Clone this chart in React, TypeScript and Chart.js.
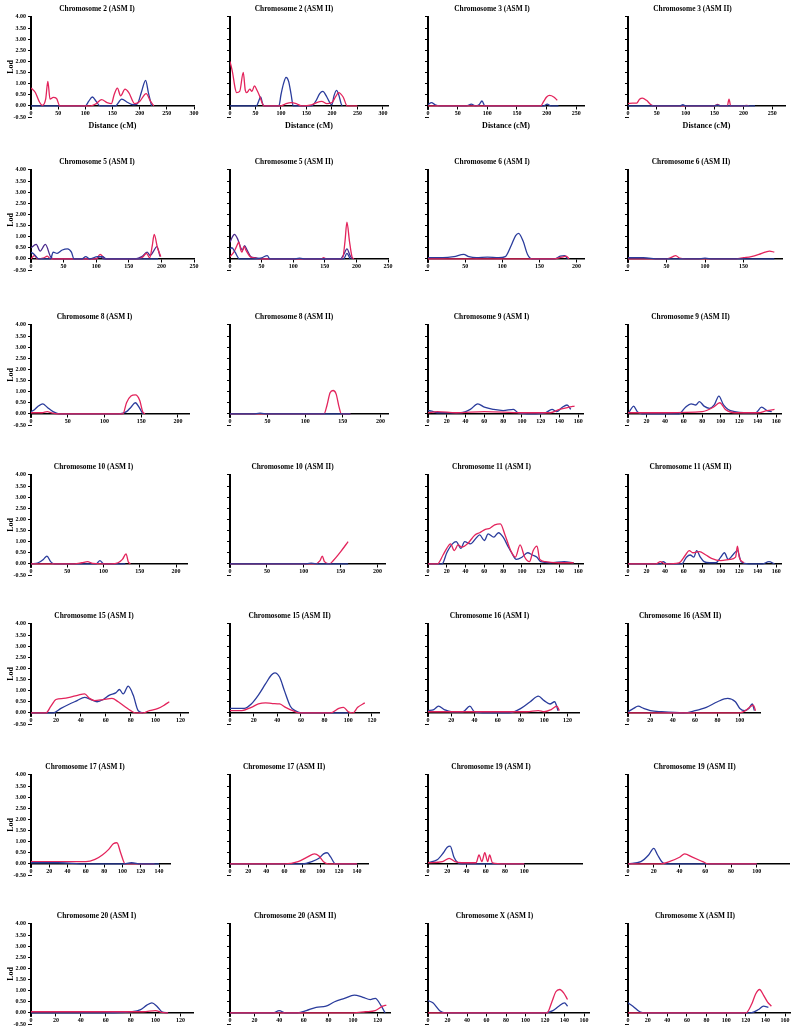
import React, { useEffect, useRef } from "react";
import { Chart, registerables } from "chart.js";
Chart.register(...registerables);

// ---------- tick label sets ----------
const ticks50to300 = [0, 50, 100, 150, 200, 250, 300];
const ticks50to250 = [0, 50, 100, 150, 200, 250];
const ticks50to200 = [0, 50, 100, 150, 200];
const ticks50to150 = [0, 50, 100, 150];
const ticks20to160 = [0, 20, 40, 60, 80, 100, 120, 140, 160];
const ticks20to140 = [0, 20, 40, 60, 80, 100, 120, 140];
const ticks20to120 = [0, 20, 40, 60, 80, 100, 120];
const ticks20to100 = [0, 20, 40, 60, 80, 100];
const lodTicks = [-0.5, 0, 0.5, 1, 1.5, 2, 2.5, 3, 3.5, 4];

// ---------- series: [distance cM, LOD] ----------
const chr2I_red = [[0,0.8],[8,0.6],[15,0.2],[21,0.02],[27,0.3],[31,1.1],[35,0.3],[41,0.38],[47,0.33],[53,0],[110,0],[120,0.1],[130,0.28],[140,0.15],[148,0.1],[153,0.5],[159,0.8],[165,0.45],[173,0.75],[180,0.6],[191,0.1],[200,0.2],[212,0.55],[220,0.2],[226,0]];
const chr2I_blue = [[0,0],[100,0],[106,0.2],[113,0.4],[120,0.2],[127,0],[155,0],[167,0.3],[178,0.15],[188,0.05],[196,0.1],[203,0.6],[211,1.15],[216,0.6],[222,0]];
const chr2II_red = [[0,2.0],[5,1.5],[10,0.8],[13,0.6],[19,0.65],[26,1.5],[30,0.7],[33,0.6],[39,0.75],[43,0.65],[48,0.9],[53,0.7],[57,0.5],[62,0.2],[66,0],[100,0],[110,0.1],[120,0.15],[130,0.1],[140,0],[160,0.05],[170,0.15],[180,0.2],[190,0.1],[200,0.15],[207,0.4],[213,0.6],[222,0.4],[230,0],[250,0]];
const chr2II_blue = [[0,0],[52,0],[56,0.2],[60,0.4],[64,0.1],[67,0],[96,0],[100,0.5],[105,1.0],[110,1.28],[115,1.1],[120,0.5],[124,0],[160,0],[168,0.2],[176,0.55],[182,0.65],[190,0.4],[197,0.1],[200,0.05],[204,0.45],[209,0.7],[214,0.45],[218,0.1],[220,0]];
const chr3I_blue = [[0,0.05],[6,0.15],[12,0.05],[20,0],[65,0],[73,0.08],[80,0],[86,0.05],[91,0.22],[96,0],[195,0],[201,0.08],[207,0],[220,0]];
const chr3I_red = [[0,0],[190,0],[195,0.2],[200,0.4],[205,0.47],[212,0.4],[218,0.25]];
const chr3II_red = [[0,0.1],[8,0.12],[15,0.12],[20,0.3],[25,0.35],[32,0.25],[40,0.05],[45,0],[150,0],[155,0.07],[160,0],[172,0],[175,0.3],[178,0],[200,0],[205,0.02],[210,0]];
const chr3II_blue = [[0,0],[90,0],[95,0.05],[100,0],[150,0],[155,0.04],[160,0],[220,0]];
const chr5I_purple = [[0,0.5],[8,0.65],[14,0.35],[22,0.65],[30,0.1],[35,0],[100,0],[106,0.1],[112,0],[160,0],[170,0.1],[178,0.3],[183,0.15],[188,0.35],[193,0.55],[198,0.1]];
const chr5I_blue = [[0,0.3],[5,0.2],[12,0],[30,0],[34,0.3],[40,0.25],[48,0.4],[56,0.45],[62,0.3],[66,0],[78,0],[84,0.1],[90,0],[102,0.1],[110,0.1],[115,0],[195,0]];
const chr5I_red = [[0,0],[5,0.15],[10,0],[20,0.05],[25,0.12],[30,0],[100,0],[106,0.2],[112,0.05],[116,0],[165,0],[172,0.1],[177,0.25],[182,0.05],[186,0.6],[189,1.1],[194,0.5],[199,0.1]];
const chr5II_purple = [[0,0.75],[4,1.0],[7,1.1],[12,0.9],[17,0.5],[20,0.4],[23,0.6],[27,0.4],[33,0.1],[40,0.05],[50,0],[175,0],[180,0.2],[185,0.45],[190,0.15],[193,0]];
const chr5II_blue = [[0,0.45],[3,0.5],[8,0.3],[15,0],[40,0],[50,0.05],[59,0.15],[63,0],[100,0],[110,0.03],[120,0],[180,0],[185,0.25],[190,0]];
const chr5II_red = [[0,0.1],[6,0.3],[11,0.6],[14,0.75],[17,0.4],[19,0.3],[22,0.55],[26,0.35],[32,0.1],[38,0.05],[45,0],[145,0],[148,0.05],[152,0],[178,0],[182,0.8],[185,1.65],[189,0.8],[193,0.1],[196,0]];
const chr6I_blue = [[0,0.05],[20,0.05],[35,0.1],[48,0.2],[55,0.1],[65,0.05],[80,0.08],[95,0.05],[104,0.1],[112,0.6],[118,1.05],[122,1.15],[128,0.8],[134,0.2],[140,0],[170,0],[178,0.12],[184,0.15],[188,0]];
const chr6I_red = [[0,0],[170,0],[180,0.08],[186,0.12],[190,0]];
const chr6II_red = [[0,0],[50,0],[57,0.08],[62,0.15],[67,0.03],[75,0],[140,0],[150,0.05],[160,0.1],[170,0.2],[178,0.3],[184,0.35],[190,0.3]];
const chr6II_blue = [[0,0.05],[20,0.05],[40,0],[90,0],[100,0.03],[110,0],[190,0]];
const chr8I_blue = [[0,0.1],[5,0.2],[10,0.35],[16,0.45],[22,0.3],[30,0.1],[38,0],[120,0],[130,0.1],[136,0.3],[142,0.5],[147,0.3],[152,0]];
const chr8I_red = [[0,0.05],[15,0.05],[22,0.1],[28,0.05],[35,0],[125,0],[130,0.5],[136,0.8],[142,0.85],[148,0.6],[152,0.1],[155,0]];
const chr8II_red = [[0,0],[125,0],[129,0.4],[133,0.95],[137,1.05],[141,0.9],[145,0.3],[148,0],[160,0]];
const chr8II_blue = [[0,0],[30,0],[40,0.03],[50,0],[160,0]];
const chr9I_blue = [[0,0.15],[4,0.12],[10,0.05],[20,0.05],[35,0.05],[45,0.2],[53,0.45],[60,0.3],[70,0.2],[80,0.15],[91,0.2],[96,0.05],[110,0],[125,0.05],[132,0.2],[137,0.1],[143,0.3],[148,0.4],[152,0.2]];
const chr9I_red = [[0,0.05],[10,0.1],[30,0.05],[60,0.1],[100,0.05],[130,0.05],[140,0.2],[150,0.3],[156,0.35]];
const chr9II_blue = [[0,0],[3,0.2],[6,0.35],[10,0.1],[15,0],[55,0],[62,0.3],[68,0.45],[73,0.4],[77,0.55],[82,0.35],[88,0.25],[93,0.4],[98,0.8],[103,0.4],[108,0.2],[115,0.1],[125,0.05],[138,0.05],[144,0.3],[150,0.15],[155,0.1]];
const chr9II_red = [[0,0.05],[40,0.05],[80,0.1],[92,0.3],[99,0.5],[105,0.2],[115,0.05],[140,0.05],[150,0.15],[158,0.2]];
const chr10I_blue = [[0,0],[10,0.05],[17,0.2],[22,0.35],[27,0.1],[32,0],[90,0],[95,0.15],[100,0],[130,0]];
const chr10I_red = [[0,0],[60,0],[70,0.05],[78,0.1],[85,0.02],[110,0],[120,0.05],[126,0.2],[131,0.45],[134,0.1],[137,0]];
const chr10II_red = [[0,0],[115,0],[122,0.15],[125,0.35],[128,0.1],[135,0],[140,0.15],[150,0.55],[160,1.0]];
const chr10II_blue = [[0,0],[100,0],[110,0.03],[120,0],[160,0]];
const chr11I_red = [[0,0],[10,0],[16,0.4],[20,0.7],[24,0.9],[28,0.6],[32,0.85],[36,0.75],[42,0.9],[50,1.3],[55,1.4],[61,1.55],[66,1.6],[71,1.75],[77,1.8],[82,1.3],[88,0.6],[93,0.3],[98,0.85],[103,0.3],[108,0.1],[112,0.6],[116,0.8],[119,0.2],[125,0.1],[140,0.05],[155,0.05]];
const chr11I_blue = [[0,0],[15,0],[20,0.5],[26,0.9],[30,1.0],[35,0.7],[39,1.0],[45,0.9],[52,1.2],[55,1.3],[60,1.05],[64,1.35],[70,1.2],[75,1.4],[80,1.2],[85,0.8],[89,0.5],[94,0.2],[100,0.3],[106,0.5],[111,0.4],[116,0.3],[120,0.1],[130,0.05],[145,0.1],[155,0.05]];
const chr11II_red = [[0,0],[30,0],[35,0.1],[40,0],[55,0.05],[62,0.4],[66,0.6],[70,0.5],[77,0.55],[84,0.4],[90,0.25],[100,0.15],[110,0.2],[116,0.3],[118,0.8],[120,0.3],[125,0.05]];
const chr11II_blue = [[0,0],[35,0],[38,0.1],[42,0],[58,0],[63,0.3],[67,0.4],[71,0.3],[74,0.6],[78,0.3],[82,0.1],[88,0.05],[95,0.05],[100,0.3],[104,0.5],[108,0.2],[113,0.4],[118,0.6],[122,0.1],[130,0],[145,0],[152,0.1],[158,0]];
const chr15I_red = [[0,0],[12,0],[16,0.3],[20,0.6],[26,0.65],[31,0.7],[38,0.8],[43,0.85],[47,0.65],[51,0.55],[58,0.6],[65,0.65],[70,0.5],[75,0.3],[80,0.1],[84,0],[90,0],[95,0.1],[102,0.2],[107,0.35],[111,0.5]];
const chr15I_blue = [[0,0],[18,0],[24,0.2],[31,0.4],[37,0.55],[43,0.7],[48,0.6],[53,0.5],[58,0.6],[63,0.8],[68,0.9],[71,1.05],[74,0.85],[78,1.2],[82,0.8],[86,0.1],[90,0]];
const chr15II_blue = [[0,0.2],[5,0.2],[12,0.2],[18,0.4],[24,0.8],[30,1.3],[35,1.7],[38,1.8],[42,1.6],[46,1.0],[51,0.3],[55,0.1],[60,0],[100,0]];
const chr15II_red = [[0,0.1],[10,0.1],[18,0.25],[24,0.4],[30,0.45],[36,0.42],[42,0.4],[47,0.25],[53,0.1],[59,0],[85,0],[92,0.2],[96,0.25],[100,0.05],[104,0],[108,0.25],[114,0.45]];
const chr16I_blue = [[0,0.1],[5,0.15],[9,0.3],[14,0.15],[20,0.05],[30,0.05],[36,0.3],[40,0.05],[50,0],[70,0],[80,0.2],[88,0.5],[95,0.75],[100,0.55],[105,0.4],[109,0.5],[112,0.1]];
const chr16I_red = [[0,0.05],[30,0.05],[60,0.05],[85,0.05],[95,0.1],[100,0.05],[106,0.15],[111,0.3],[113,0.1]];
const chr16II_blue = [[0,0.05],[5,0.2],[9,0.3],[14,0.2],[20,0.1],[30,0.05],[50,0],[60,0.1],[70,0.25],[80,0.5],[89,0.65],[96,0.5],[100,0.2],[104,0.1],[108,0.2],[111,0.4],[113,0.1]];
const chr16II_red = [[0,0],[60,0],[90,0],[100,0],[105,0.1],[110,0.3],[112,0.35],[114,0.1]];
const chr17I_red = [[0,0.1],[20,0.1],[40,0.1],[60,0.1],[70,0.2],[78,0.4],[85,0.65],[90,0.9],[94,0.95],[98,0.5],[103,0],[120,0],[135,0]];
const chr17I_blue = [[0,0.05],[30,0.05],[60,0],[100,0],[110,0.05],[120,0],[140,0]];
const chr17II_red = [[0,0],[60,0],[75,0.1],[85,0.3],[93,0.45],[98,0.35],[103,0.1],[108,0],[140,0]];
const chr17II_blue = [[0,0],[80,0],[90,0.1],[98,0.25],[103,0.45],[107,0.5],[111,0.3],[116,0],[140,0]];
const chr19I_blue = [[0,0.05],[10,0.2],[16,0.5],[20,0.75],[23,0.8],[27,0.3],[31,0.05],[35,0],[60,0],[100,0]];
const chr19I_red = [[0,0.05],[15,0.1],[22,0.25],[28,0.1],[35,0.05],[50,0.05],[53,0.4],[56,0.1],[59,0.5],[62,0.1],[64,0.4],[67,0.05],[80,0],[100,0]];
const chr19II_blue = [[0,0],[10,0.1],[16,0.4],[20,0.7],[23,0.4],[27,0.05],[30,0],[100,0]];
const chr19II_red = [[0,0],[25,0],[32,0.1],[40,0.3],[44,0.45],[50,0.3],[58,0.1],[62,0],[100,0]];
const chr20I_blue = [[0,0],[60,0],[80,0.05],[88,0.15],[93,0.35],[97,0.45],[101,0.3],[105,0.05],[110,0]];
const chr20I_red = [[0,0.05],[50,0.05],[90,0.05],[100,0.1],[105,0.02],[110,0]];
const chr20II_blue = [[0,0],[35,0],[40,0.1],[45,0],[55,0],[62,0.1],[70,0.25],[78,0.3],[85,0.5],[93,0.65],[101,0.8],[108,0.7],[114,0.6],[118,0.65],[123,0.3],[126,0]];
const chr20II_red = [[0,0],[100,0],[110,0.05],[118,0.1],[124,0.3],[127,0.35]];
const chrXI_blue = [[0,0.55],[5,0.45],[12,0.1],[18,0],[120,0],[128,0.1],[134,0.3],[140,0.45],[143,0.3]];
const chrXI_red = [[0,0],[100,0],[122,0],[127,0.5],[131,0.95],[135,1.05],[139,0.9],[143,0.6]];
const chrXII_blue = [[0,0.45],[5,0.3],[12,0.05],[18,0],[125,0],[133,0.15],[138,0.3],[143,0.25]];
const chrXII_red = [[0,0],[120,0],[126,0.4],[130,0.85],[134,1.05],[138,0.8],[142,0.5],[146,0.3]];

// ---------- styles / layout ----------
const RED = "#e3245c";
const BLUE = "#2a3c9c";
const PURPLE = "#4b2a8c";
const SERIF = "'Liberation Serif', 'Times New Roman', serif";

const CANVAS_W = 260;
const HALF_W = CANVAS_W / 2;
const PANEL_H = 150;
const ROW_TOPS = [0, 153, 308, 458, 607, 758, 907];
const COL_LEFTS = [0, 200, 400, 600];
const PLOT_LEFT = [31, 30, 28, 28];

type Panel = {
  title: string;
  xMax: number;
  ticks: number[];
  right: number;
  titleX: number;
  series: { data: number[][]; color: string }[];
};

const PANELS: Panel[] = [
  { title: "Chromosome 2 (ASM I)", xMax: 300, ticks: ticks50to300, right: 194, titleX: 108, series: [{ data: chr2I_red, color: RED }, { data: chr2I_blue, color: BLUE }] },
  { title: "Chromosome 2 (ASM II)", xMax: 310, ticks: ticks50to300, right: 188, titleX: 107, series: [{ data: chr2II_red, color: RED }, { data: chr2II_blue, color: BLUE }] },
  { title: "Chromosome 3 (ASM I)", xMax: 263, ticks: ticks50to250, right: 184, titleX: 108, series: [{ data: chr3I_red, color: RED }, { data: chr3I_blue, color: BLUE }] },
  { title: "Chromosome 3 (ASM II)", xMax: 272, ticks: ticks50to250, right: 185, titleX: 106, series: [{ data: chr3II_blue, color: BLUE }, { data: chr3II_red, color: RED }] },
  { title: "Chromosome 5 (ASM I)", xMax: 250, ticks: ticks50to250, right: 194, titleX: 106, series: [{ data: chr5I_blue, color: BLUE }, { data: chr5I_red, color: RED }, { data: chr5I_purple, color: PURPLE }] },
  { title: "Chromosome 5 (ASM II)", xMax: 250, ticks: ticks50to250, right: 188, titleX: 107, series: [{ data: chr5II_blue, color: BLUE }, { data: chr5II_red, color: RED }, { data: chr5II_purple, color: PURPLE }] },
  { title: "Chromosome 6 (ASM I)", xMax: 210, ticks: ticks50to200, right: 184, titleX: 106, series: [{ data: chr6I_red, color: RED }, { data: chr6I_blue, color: BLUE }] },
  { title: "Chromosome 6 (ASM II)", xMax: 200, ticks: ticks50to150, right: 182, titleX: 105, series: [{ data: chr6II_blue, color: BLUE }, { data: chr6II_red, color: RED }] },
  { title: "Chromosome 8 (ASM I)", xMax: 215, ticks: ticks50to200, right: 189, titleX: 97, series: [{ data: chr8I_red, color: RED }, { data: chr8I_blue, color: BLUE }] },
  { title: "Chromosome 8 (ASM II)", xMax: 210, ticks: ticks50to200, right: 188, titleX: 101, series: [{ data: chr8II_blue, color: BLUE }, { data: chr8II_red, color: RED }] },
  { title: "Chromosome 9 (ASM I)", xMax: 165, ticks: ticks20to160, right: 183, titleX: 106, series: [{ data: chr9I_red, color: RED }, { data: chr9I_blue, color: BLUE }] },
  { title: "Chromosome 9 (ASM II)", xMax: 165, ticks: ticks20to160, right: 181, titleX: 105, series: [{ data: chr9II_red, color: RED }, { data: chr9II_blue, color: BLUE }] },
  { title: "Chromosome 10 (ASM I)", xMax: 215, ticks: ticks50to200, right: 187, titleX: 105, series: [{ data: chr10I_red, color: RED }, { data: chr10I_blue, color: BLUE }] },
  { title: "Chromosome 10 (ASM II)", xMax: 210, ticks: ticks50to200, right: 185, titleX: 104, series: [{ data: chr10II_blue, color: BLUE }, { data: chr10II_red, color: RED }] },
  { title: "Chromosome 11 (ASM I)", xMax: 165, ticks: ticks20to160, right: 183, titleX: 108, series: [{ data: chr11I_red, color: RED }, { data: chr11I_blue, color: BLUE }] },
  { title: "Chromosome 11 (ASM II)", xMax: 165, ticks: ticks20to160, right: 181, titleX: 105, series: [{ data: chr11II_red, color: RED }, { data: chr11II_blue, color: BLUE }] },
  { title: "Chromosome 15 (ASM I)", xMax: 126, ticks: ticks20to120, right: 188, titleX: 103, series: [{ data: chr15I_red, color: RED }, { data: chr15I_blue, color: BLUE }] },
  { title: "Chromosome 15 (ASM II)", xMax: 126, ticks: ticks20to120, right: 179, titleX: 101, series: [{ data: chr15II_red, color: RED }, { data: chr15II_blue, color: BLUE }] },
  { title: "Chromosome 16 (ASM I)", xMax: 130, ticks: ticks20to120, right: 179, titleX: 106, series: [{ data: chr16I_red, color: RED }, { data: chr16I_blue, color: BLUE }] },
  { title: "Chromosome 16 (ASM II)", xMax: 118, ticks: ticks20to100, right: 160, titleX: 79, series: [{ data: chr16II_red, color: RED }, { data: chr16II_blue, color: BLUE }] },
  { title: "Chromosome 17 (ASM I)", xMax: 152, ticks: ticks20to140, right: 170, titleX: 85, series: [{ data: chr17I_blue, color: BLUE }, { data: chr17I_red, color: RED }] },
  { title: "Chromosome 17 (ASM II)", xMax: 152, ticks: ticks20to140, right: 168, titleX: 84, series: [{ data: chr17II_red, color: RED }, { data: chr17II_blue, color: BLUE }] },
  { title: "Chromosome 19 (ASM I)", xMax: 160, ticks: ticks20to100, right: 182, titleX: 94, series: [{ data: chr19I_red, color: RED }, { data: chr19I_blue, color: BLUE }] },
  { title: "Chromosome 19 (ASM II)", xMax: 125, ticks: ticks20to100, right: 189, titleX: 94, series: [{ data: chr19II_red, color: RED }, { data: chr19II_blue, color: BLUE }] },
  { title: "Chromosome 20 (ASM I)", xMax: 130, ticks: ticks20to120, right: 193, titleX: 97, series: [{ data: chr20I_red, color: RED }, { data: chr20I_blue, color: BLUE }] },
  { title: "Chromosome 20 (ASM II)", xMax: 130, ticks: ticks20to120, right: 190, titleX: 100, series: [{ data: chr20II_red, color: RED }, { data: chr20II_blue, color: BLUE }] },
  { title: "Chromosome X (ASM I)", xMax: 165, ticks: ticks20to160, right: 189, titleX: 96, series: [{ data: chrXI_red, color: RED }, { data: chrXI_blue, color: BLUE }] },
  { title: "Chromosome X (ASM II)", xMax: 165, ticks: ticks20to160, right: 190, titleX: 94, series: [{ data: chrXII_red, color: RED }, { data: chrXII_blue, color: BLUE }] },
];

function PanelChart({ panel, index }: { panel: Panel; index: number }) {
  const ref = useRef<HTMLCanvasElement | null>(null);
  const col = index % 4;
  const row = Math.floor(index / 4);
  const c = panel.titleX;
  const canvasLeft = COL_LEFTS[col] + c - HALF_W;
  useEffect(() => {
    if (!ref.current) return;
    const yWidth = PLOT_LEFT[col];
    const padLeft = HALF_W - c;
    const padRight = HALF_W + c - panel.right;
    const chart = new Chart(ref.current, {
      type: "line",
      data: {
        datasets: panel.series.map((s) => ({
          data: s.data.map(([x, y]) => ({ x, y })),
          borderColor: s.color,
          borderWidth: 1.3,
          pointRadius: 0,
          fill: false,
          cubicInterpolationMode: "monotone" as const,
          tension: 0.4,
        })),
      },
      options: {
        animation: false,
        responsive: false,
        devicePixelRatio: 1,
        events: [],
        layout: { padding: { left: padLeft, right: padRight, top: 0, bottom: 33 } },
        plugins: {
          legend: { display: false },
          tooltip: { enabled: false },
          title: {
            display: true,
            fullSize: true,
            text: panel.title,
            color: "#000",
            font: { family: SERIF, size: 7.4, weight: "bold" },
            padding: { top: 5, bottom: 3 },
          },
        },
        scales: {
          x: {
            type: "linear",
            min: 0,
            max: panel.xMax,
            position: { y: 0 } as any,
            afterBuildTicks: (s: any) => {
              s.ticks = panel.ticks.map((v) => ({ value: v }));
            },
            ticks: {
              autoSkip: false,
              maxRotation: 0,
              color: "#000",
              padding: 1,
              z: 5,
              showLabelBackdrop: (ctx: any) => ctx.index === 0,
              backdropColor: "#fff",
              backdropPadding: { top: 0, bottom: 0, left: 0.5, right: 0.5 },
              font: { family: SERIF, size: 6, weight: "bold" },
              callback: (v: any) => String(v),
            },
            grid: { drawOnChartArea: false, drawTicks: true, tickLength: 3, color: "#000", lineWidth: 1 },
            border: { color: "#000", width: 1.5 },
            title: {
              display: row === 0,
              text: "Distance (cM)",
              color: "#000",
              font: { family: SERIF, size: 8, weight: "bold" },
              padding: { top: 3, bottom: 0 },
            },
          },
          y: {
            type: "linear",
            min: -0.5,
            max: 4,
            afterBuildTicks: (s: any) => {
              s.ticks = lodTicks.map((v) => ({ value: v }));
            },
            afterFit: (s: any) => {
              s.width = yWidth;
            },
            ticks: {
              display: col === 0,
              color: "#000",
              padding: 2,
              font: { family: SERIF, size: 6, weight: "bold" },
              callback: (v: any) => Number(v).toFixed(2),
            },
            grid: { drawOnChartArea: false, drawTicks: true, tickLength: 3, color: "#000", lineWidth: 1 },
            border: { color: "#000", width: 2 },
            title: {
              display: col === 0,
              text: "Lod",
              color: "#000",
              font: { family: SERIF, size: 8, weight: "bold" },
              padding: { top: 6, bottom: 0 },
            },
          },
        },
      },
    });
    return () => chart.destroy();
  }, [panel, col, row, c]);
  return (
    <div
      style={{
        position: "absolute",
        left: canvasLeft,
        top: ROW_TOPS[row],
        width: CANVAS_W,
        height: PANEL_H,
      }}
    >
      <canvas ref={ref} width={CANVAS_W} height={PANEL_H} style={{ width: CANVAS_W, height: PANEL_H, display: "block" }} />
    </div>
  );
}

export default function App() {
  return (
    <div style={{ position: "absolute", left: 0, top: 0, width: 800, height: 1032, background: "#fff", overflow: "hidden" }}>
      {PANELS.map((p, i) => (
        <PanelChart key={p.title} panel={p} index={i} />
      ))}
    </div>
  );
}
